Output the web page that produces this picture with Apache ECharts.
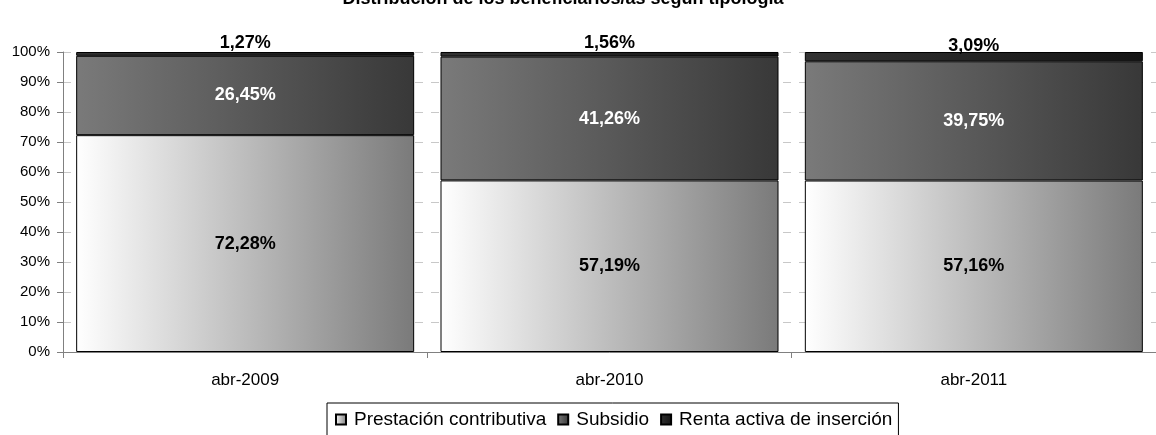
<!DOCTYPE html>
<html>
<head>
<meta charset="utf-8">
<script src="https://cdn.jsdelivr.net/npm/echarts@6/dist/echarts.min.js"></script>
<style>
  html, body { margin: 0; padding: 0; background: #fff; }
  #chart { width: 1156px; height: 435px; }
</style>
</head>
<body>
<div id="chart"></div>
<script>
const categories = ['abr-2009', 'abr-2010', 'abr-2011']
const prestacion = [72.28, 57.19, 57.16]
const subsidio = [26.45, 41.26, 39.75]
const renta = [1.27, 1.56, 3.09]

const font = 'Liberation Sans, Arial, sans-serif'

function grad(a, b) {
  return new echarts.graphic.LinearGradient(0, 0, 1, 0, [
    { offset: 0, color: a },
    { offset: 1, color: b }
  ])
}

function pct(p) {
  return p.value.toFixed(2).replace('.', ',') + '%'
}

const chart = echarts.init(document.getElementById('chart'))

chart.setOption({
  animation: false,
  title: {
    text: 'Distribución de los beneficiarios/as según tipología',
    left: 558,
    textAlign: 'center',
    top: -15,
    textStyle: { fontFamily: font, fontSize: 18, fontWeight: 'bold', color: '#000' }
  },
  grid: { left: 63, top: 52, width: 1101, height: 300 },
  legend: {
    left: 327,
    top: 403,
    padding: [7, 6, 8, 8],
    itemGap: 11,
    itemWidth: 10,
    itemHeight: 10,
    borderColor: '#000',
    borderWidth: 1,
    borderRadius: 0,
    icon: 'rect',
    textStyle: { fontFamily: font, fontSize: 19, color: '#000', padding: [0, 0, 0, 3] },
    data: ['Prestación contributiva', 'Subsidio', 'Renta activa de inserción']
  },
  xAxis: {
    type: 'category',
    data: categories,
    axisLine: { lineStyle: { color: '#808080' } },
    axisTick: { show: true, length: 6, lineStyle: { color: '#808080' } },
    axisLabel: { fontFamily: font, fontSize: 17, color: '#000', margin: 20 }
  },
  yAxis: {
    type: 'value',
    min: 0,
    max: 100,
    interval: 10,
    axisLine: { show: true, lineStyle: { color: '#808080' } },
    axisTick: { show: true, length: 6, lineStyle: { color: '#808080' } },
    axisLabel: { fontFamily: font, fontSize: 15, color: '#000', margin: 13, formatter: '{value}%' },
    splitLine: { lineStyle: { color: '#c8c8c8', type: [8, 8] } }
  },
  series: [
    {
      name: 'Prestación contributiva',
      type: 'bar',
      stack: 'total',
      barWidth: 338,
      data: prestacion,
      itemStyle: { color: grad('#ffffff', '#7a7a7a'), borderColor: '#000', borderWidth: 1 },
      label: {
        show: true, position: 'inside', formatter: pct,
        fontFamily: font, fontSize: 18, fontWeight: 'bold', color: '#000'
      }
    },
    {
      name: 'Subsidio',
      type: 'bar',
      stack: 'total',
      data: subsidio,
      itemStyle: { color: grad('#7a7a7a', '#383838'), borderColor: '#000', borderWidth: 1 },
      label: {
        show: true, position: 'inside', formatter: pct,
        fontFamily: font, fontSize: 18, fontWeight: 'bold', color: '#fff'
      }
    },
    {
      name: 'Renta activa de inserción',
      type: 'bar',
      stack: 'total',
      data: renta,
      itemStyle: { color: grad('#333333', '#151515'), borderColor: '#000', borderWidth: 1 },
      label: {
        show: true, position: 'inside', offset: [0, -11], formatter: pct,
        fontFamily: font, fontSize: 18, fontWeight: 'bold', color: '#000'
      }
    }
  ]
})
</script>
</body>
</html>
